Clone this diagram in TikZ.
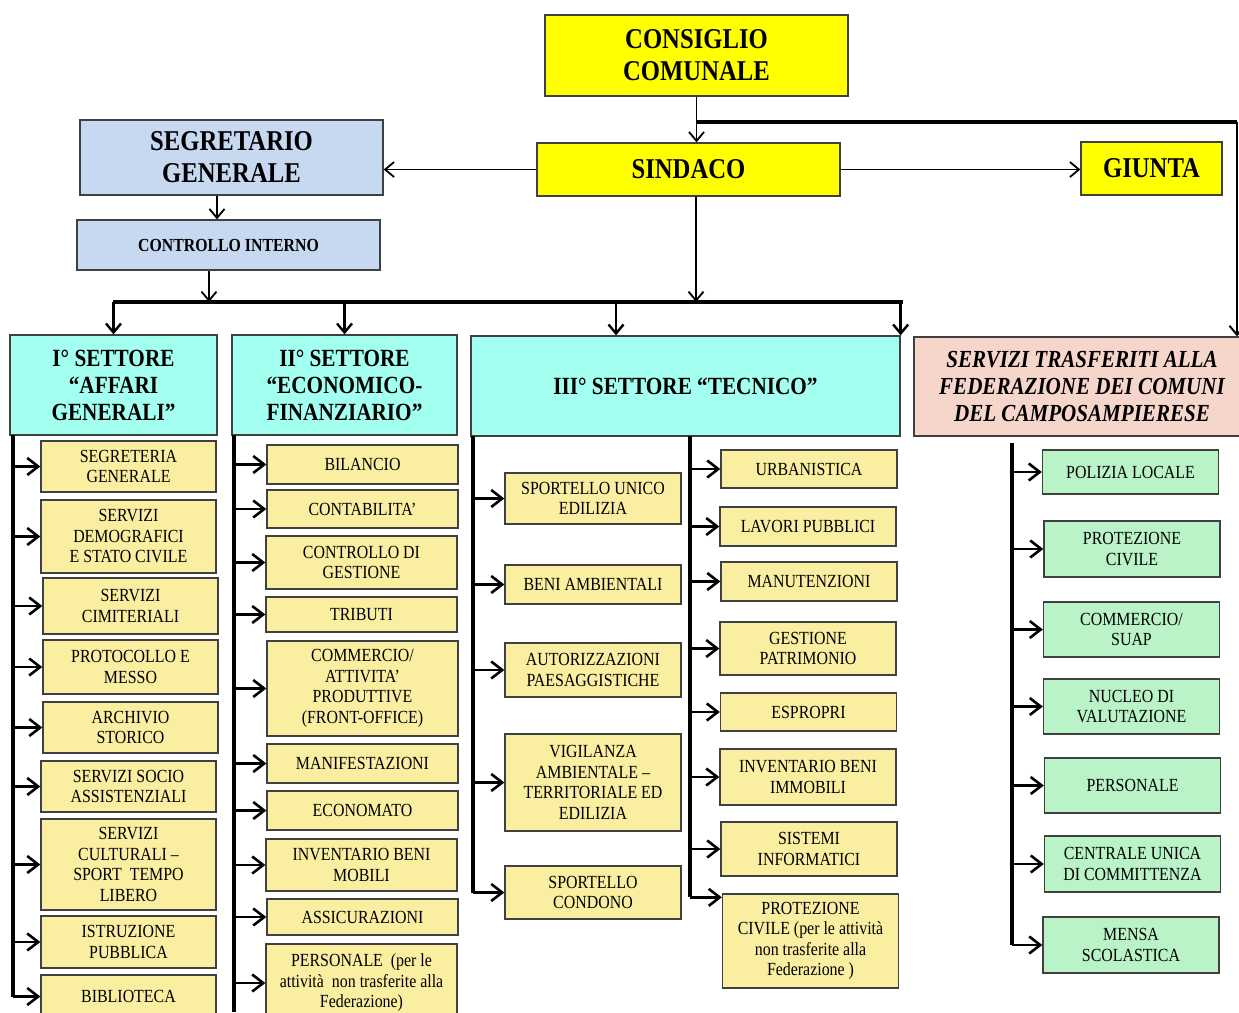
\documentclass[tikz,border=0pt]{standalone}
\usepackage{fontspec}
\setmainfont{Liberation Serif}[FakeStretch=0.86]
\usetikzlibrary{arrows.meta,calc}
\definecolor{OrgYellow}{RGB}{255,255,0}
\definecolor{OrgBlue}{RGB}{198,217,241}
\definecolor{OrgCyan}{RGB}{163,255,239}
\definecolor{OrgSand}{RGB}{250,238,160}
\definecolor{OrgPink}{RGB}{246,213,202}
\definecolor{OrgGreen}{RGB}{185,243,199}
\tikzset{
  org/box/.style={
    draw=black!75,
    line width=1.3pt,
    align=center,
    inner sep=2pt,
    text=black
  },
  org/top/.style={org/box, fill=OrgYellow, font=\fontsize{28.7}{32}\selectfont\bfseries},
  org/staff/.style={org/box, fill=OrgBlue, font=\fontsize{28.7}{32}\selectfont\bfseries},
  org/sector/.style={org/box, fill=OrgCyan, font=\fontsize{24.7}{27}\selectfont\bfseries},
  org/fed/.style={org/box, fill=OrgPink, font=\fontsize{24.5}{27}\selectfont\bfseries\itshape},
  org/unit/.style={org/box, fill=OrgSand, font=\fontsize{18.5}{20.5}\selectfont},
  org/fedunit/.style={org/unit, fill=OrgGreen},
  org/colA/.style={org/unit, minimum width=175pt},
  org/colB/.style={org/unit, minimum width=191pt},
  org/colC/.style={org/unit, minimum width=176pt},
  org/colD/.style={org/unit, minimum width=176pt},
  org/colE/.style={org/fedunit, minimum width=176pt},
  org/link/.style={-{Straight Barb[length=9pt,width=15pt]}, line width=1.8pt},
  org/drop/.style={-{Straight Barb[length=9pt,width=15pt]}, line width=2.4pt},
  org/branch/.style={-{Straight Barb[length=11pt,width=17pt]}, line width=2.6pt},
  org/bus/.style={line width=4.5pt},
  org/spine/.style={line width=4.5pt}
}
\begin{document}
\begin{tikzpicture}[x=1pt,y=-1pt]
  \useasboundingbox (0,0) rectangle (1239,1012);
  % vertici
  \node[org/top, minimum width=303pt, minimum height=81pt] (consiglio) at (696.5,55.5) {CONSIGLIO\\COMUNALE};
  \node[org/top, minimum width=303pt, minimum height=53pt] (sindaco) at (688.5,169.5) {SINDACO};
  \node[org/top, minimum width=141pt, minimum height=53pt] (giunta) at (1151.5,168.5) {GIUNTA};
  \node[org/staff, minimum width=303pt, minimum height=75pt] (segretario) at (231.5,157.5) {SEGRETARIO\\GENERALE};
  \node[org/staff, minimum width=303pt, minimum height=50pt, font=\fontsize{18.4}{20}\selectfont\bfseries] (controllo) at (228.5,245) {CONTROLLO INTERNO};

  % settori
  \node[org/sector, minimum width=207pt, minimum height=100pt] (set1) at (113.5,385) {I° SETTORE\\“AFFARI\\GENERALI”};
  \node[org/sector, minimum width=225pt, minimum height=100pt] (set2) at (344.5,385) {II° SETTORE\\“ECONOMICO-\\FINANZIARIO”};
  \node[org/sector, minimum width=429pt, minimum height=100pt] (set3) at (685.5,386) {III° SETTORE “TECNICO”};
  \node[org/fed, minimum width=336pt, minimum height=99pt] (fed) at (1082,386.5) {SERVIZI TRASFERITI ALLA\\FEDERAZIONE DEI COMUNI\\DEL CAMPOSAMPIERESE};

  % I settore
  \node[org/colA, minimum height=51pt] (ag1) at (128.5,466.5) {SEGRETERIA\\GENERALE};
  \node[org/colA, minimum height=73pt] (ag2) at (128.5,536.5) {SERVIZI\\DEMOGRAFICI\\E STATO CIVILE};
  \node[org/colA, minimum height=56pt] (ag3) at (130.5,606) {SERVIZI\\CIMITERIALI};
  \node[org/colA, minimum height=54pt] (ag4) at (130.5,667) {PROTOCOLLO E\\MESSO};
  \node[org/colA, minimum height=51pt] (ag5) at (130.5,727.5) {ARCHIVIO\\STORICO};
  \node[org/colA, minimum height=51pt] (ag6) at (128.5,786.5) {SERVIZI SOCIO\\ASSISTENZIALI};
  \node[org/colA, minimum height=91pt] (ag7) at (128.5,864.5) {SERVIZI\\CULTURALI –\\SPORT \ TEMPO\\LIBERO};
  \node[org/colA, minimum height=52pt] (ag8) at (128.5,942) {ISTRUZIONE\\PUBBLICA};
  \node[org/colA, minimum height=43pt] (ag9) at (128.5,996.5) {BIBLIOTECA};

  % II settore
  \node[org/colB, minimum height=39pt] (ef1) at (362.5,464.5) {BILANCIO};
  \node[org/colB, minimum height=38pt] (ef2) at (362.5,509) {CONTABILITA’};
  \node[org/colB, minimum height=53pt] (ef3) at (361.5,562.5) {CONTROLLO DI\\GESTIONE};
  \node[org/colB, minimum height=35pt] (ef4) at (361.5,614.5) {TRIBUTI};
  \node[org/colB, minimum height=95pt] (ef5) at (362.5,688.5) {COMMERCIO/\\ATTIVITA’\\PRODUTTIVE\\(FRONT-OFFICE)};
  \node[org/colB, minimum height=39pt] (ef6) at (362.5,763.5) {MANIFESTAZIONI};
  \node[org/colB, minimum height=39pt] (ef7) at (362.5,810.5) {ECONOMATO};
  \node[org/colB, minimum height=52pt] (ef8) at (361.5,865) {INVENTARIO BENI\\MOBILI};
  \node[org/colB, minimum height=36pt] (ef9) at (362.5,917) {ASSICURAZIONI};
  \node[org/colB, minimum height=78pt] (ef10) at (361.5,983) {PERSONALE \ (per le\\attività \ non trasferite alla\\Federazione)};

  % III settore
  \node[org/colC, minimum height=51pt] (tl1) at (593,498.5) {SPORTELLO UNICO\\EDILIZIA};
  \node[org/colC, minimum height=39pt] (tl2) at (593,584.5) {BENI AMBIENTALI};
  \node[org/colC, minimum height=54pt] (tl3) at (593,670) {AUTORIZZAZIONI\\PAESAGGISTICHE};
  \node[org/colC, minimum height=97pt] (tl4) at (593,782.5) {VIGILANZA\\AMBIENTALE –\\TERRITORIALE ED\\EDILIZIA};
  \node[org/colC, minimum height=53pt] (tl5) at (593,892.5) {SPORTELLO\\CONDONO};
  \node[org/colD, minimum height=38pt] (tr1) at (809,469) {URBANISTICA};
  \node[org/colD, minimum height=39pt] (tr2) at (808,526.5) {LAVORI PUBBLICI};
  \node[org/colD, minimum height=39pt] (tr3) at (809,581.5) {MANUTENZIONI};
  \node[org/colD, minimum height=53pt] (tr4) at (808,648.5) {GESTIONE\\PATRIMONIO};
  \node[org/colD, minimum height=38pt] (tr5) at (808.5,712) {ESPROPRI};
  \node[org/colD, minimum height=56pt] (tr6) at (808,777) {INVENTARIO BENI\\IMMOBILI};
  \node[org/colD, minimum height=54pt] (tr7) at (809,849) {SISTEMI\\INFORMATICI};
  \node[org/colD, minimum height=94pt] (tr8) at (810.5,941) {PROTEZIONE\\CIVILE (per le attività\\non trasferite alla\\Federazione )};

  % servizi trasferiti
  \node[org/colE, minimum height=44pt] (fs1) at (1130.5,472) {POLIZIA LOCALE};
  \node[org/colE, minimum height=56pt] (fs2) at (1132,549) {PROTEZIONE\\CIVILE};
  \node[org/colE, minimum height=55pt] (fs3) at (1131.5,629.5) {COMMERCIO/\\SUAP};
  \node[org/colE, minimum height=55pt] (fs4) at (1131.5,706.5) {NUCLEO DI\\VALUTAZIONE};
  \node[org/colE, minimum height=55pt] (fs5) at (1132.5,785.5) {PERSONALE};
  \node[org/colE, minimum height=56pt] (fs6) at (1132.5,864) {CENTRALE UNICA\\DI COMMITTENZA};
  \node[org/colE, minimum height=56pt] (fs7) at (1131,945) {MENSA\\SCOLASTICA};

  % collegamenti in alto
  \coordinate (tap) at (696,122);
  \coordinate (tapR) at (1237,122);
  \coordinate (busL) at (113,302);
  \coordinate (busR) at (903,302);
  \coordinate (d3) at (616,302);
  \draw[org/link] (consiglio.south) -- (consiglio.south |- sindaco.north);
  \draw[org/bus] (tap) -- (tapR);
  \draw[org/link, line width=2pt] (tapR) -- (tapR |- fed.north);
  \draw[org/link] (sindaco.west) -- (sindaco.west -| segretario.east);
  \draw[org/link] (sindaco.east) -- (sindaco.east -| giunta.west);
  \draw[org/link] ([xshift=-14.5pt]segretario.south) -- ([xshift=-14.5pt]segretario.south |- controllo.north);
  \draw[org/link] ([xshift=-19.5pt]controllo.south) -- ([xshift=-19.5pt]controllo.south |- busL);
  \draw[org/link] (sindaco.south -| tap) -- (tap |- busL);
  \draw[org/bus] (busL) -- (busR);
  \draw[org/drop] (set1.north |- busL) -- (set1.north);
  \draw[org/drop] (set2.north |- busL) -- (set2.north);
  \draw[org/drop] (d3) -- (d3 |- set3.north);
  \draw[org/drop] (set3.north east |- busL) -- (set3.north east);

  % dorsali
  \coordinate (spA) at (13,435);
  \coordinate (spB) at (234,435);
  \coordinate (spC) at (473,436);
  \coordinate (spD) at (690,436);
  \coordinate (spE) at (1012,443);
  \coordinate (tr8in) at ($(tr8.north west)+(0,4)$);
  \draw[org/spine] (spA) -- (spA |- ag9.west);
  \draw[org/spine] (spB) -- (234,1012);
  \draw[org/spine] (spC) -- (spC |- tl5.west);
  \draw[org/spine] (spD) -- (spD |- tr8in);
  \draw[org/spine] (spE) -- (spE |- fs7.west);
  \foreach \i in {1,...,9}
    \draw[org/branch] (spA |- ag\i.west) -- (ag\i.west);
  \foreach \i in {1,...,10}
    \draw[org/branch] (spB |- ef\i.west) -- (ef\i.west);
  \foreach \i in {1,...,5}
    \draw[org/branch] (spC |- tl\i.west) -- (tl\i.west);
  \foreach \i in {1,...,7}
    \draw[org/branch] (spD |- tr\i.west) -- (tr\i.west);
  \draw[org/branch] (spD |- tr8in) -- (tr8in);
  \foreach \i in {1,...,7}
    \draw[org/branch] (spE |- fs\i.west) -- (fs\i.west);
\end{tikzpicture}
\end{document}
